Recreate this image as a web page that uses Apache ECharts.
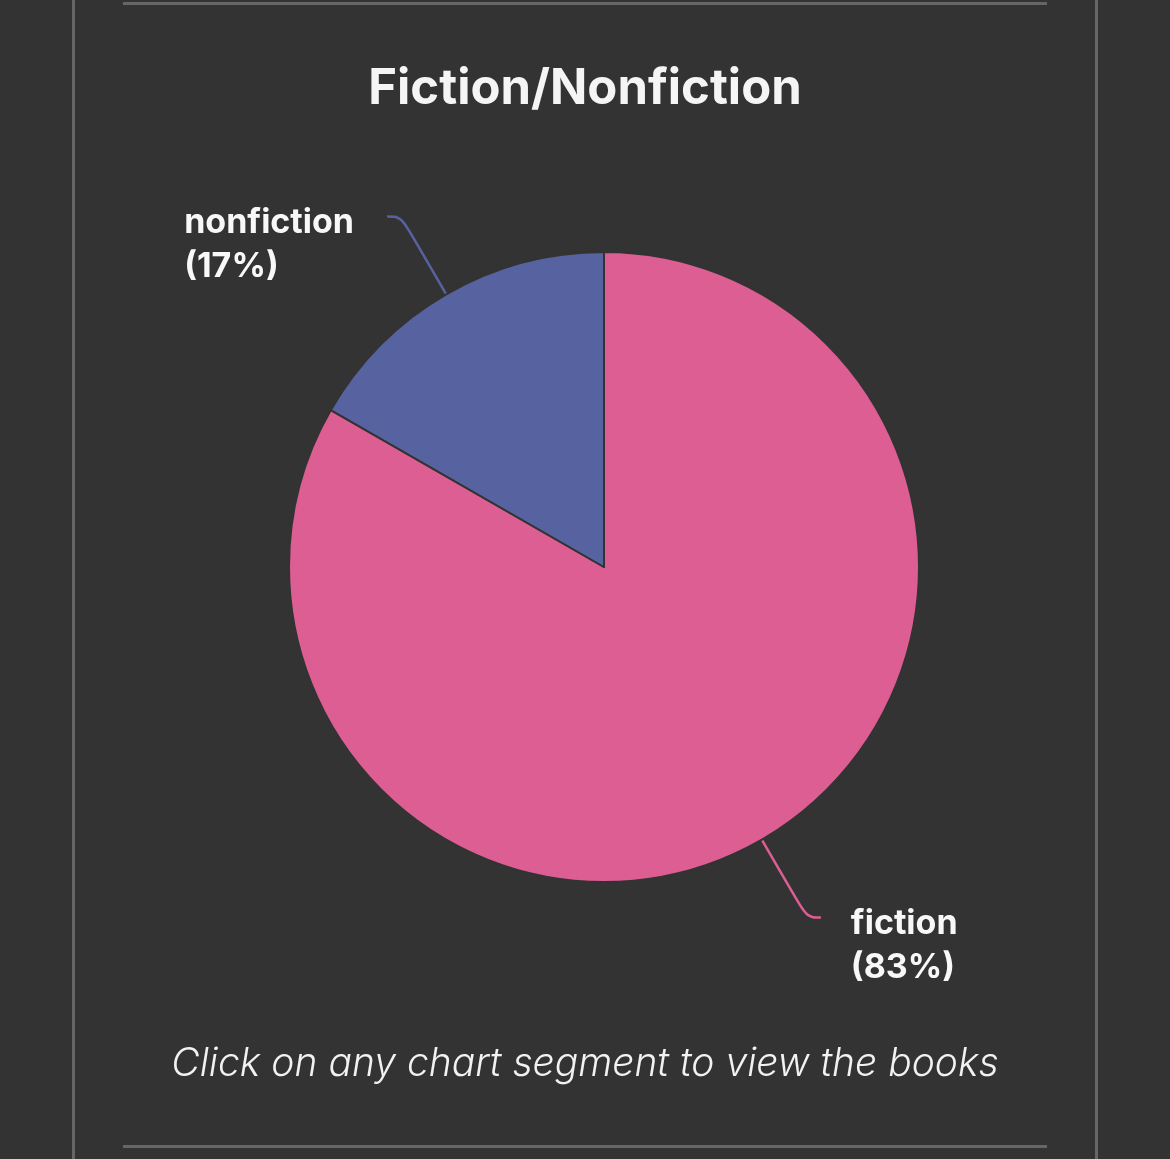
<!DOCTYPE html>
<html>
<head>
<meta charset="utf-8">
<script src="https://cdn.jsdelivr.net/npm/echarts@6/dist/echarts.min.js"></script>
<style>
html,body{margin:0;padding:0;background:#333333;}
#chart{width:1170px;height:1159px;}
</style>
</head>
<body>
<div id="chart"></div>
<script>
const titleText = 'Fiction/Nonfiction';
const footerText = 'Click on any chart segment to view the books';
const categories = ['fiction', 'nonfiction'];
const values = [83.3, 16.7];
const colors = ['#dc5e93', '#5763a0'];

const chart = echarts.init(document.getElementById('chart'));
const fontFam = 'Inter, "Open Sans", "Noto Sans", sans-serif';
chart.setOption({
  backgroundColor: '#333333',
  animation: false,
  title: [
    {
      text: titleText,
      left: 'center',
      top: 60,
      textStyle: { color: '#f5f5f5', fontSize: 49, fontWeight: 'bold', fontFamily: fontFam }
    },
    {
      text: footerText,
      left: 'center',
      top: 1040,
      textStyle: { color: '#f2f2f2', fontSize: 39, fontWeight: 300, fontStyle: 'italic', fontFamily: fontFam }
    }
  ],
  graphic: [
    { type: 'rect', shape: { x: 72, y: 0, width: 3, height: 1159 }, style: { fill: '#666666' }, silent: true },
    { type: 'rect', shape: { x: 1095, y: 0, width: 3, height: 1159 }, style: { fill: '#666666' }, silent: true },
    { type: 'rect', shape: { x: 123, y: 2, width: 924, height: 3 }, style: { fill: '#666666' }, silent: true },
    { type: 'rect', shape: { x: 123, y: 1145, width: 924, height: 3 }, style: { fill: '#666666' }, silent: true }
  ],
  series: [{
    type: 'pie',
    center: [604, 567],
    radius: 315,
    startAngle: 90,
    clockwise: true,
    avoidLabelOverlap: false,
    itemStyle: { borderColor: '#333333', borderWidth: 2 },
    label: {
      show: true,
      position: 'outside',
      distanceToLabelLine: 30,
      padding: [56, 0, 0, 0],
      formatter: p => `{a|${p.name}}\n{a|(${Math.round(p.percent)}%)}`,
      rich: {
        a: { color: '#f8f8f8', fontSize: 34, fontWeight: 'bold', fontFamily: fontFam, lineHeight: 44, width: 173, align: 'left' }
      }
    },
    labelLine: { show: true, length: 90, length2: 14, smooth: 0.4, lineStyle: { width: 2.5 } },
    emphasis: { scale: false },
    data: categories.map((c, i) => ({ name: c, value: values[i], itemStyle: { color: colors[i] } }))
  }]
});
</script>
</body>
</html>
